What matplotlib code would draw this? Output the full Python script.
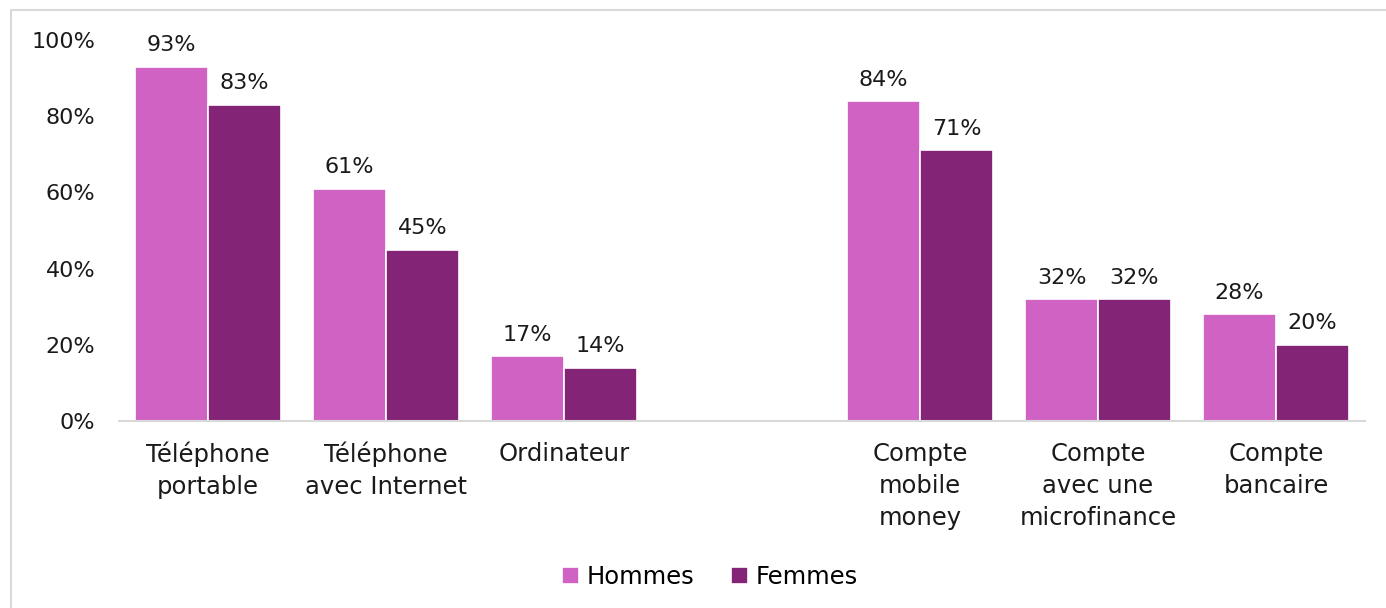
import numpy as np
import matplotlib
matplotlib.use('Agg')
import matplotlib.pyplot as plt
from matplotlib.patches import Rectangle

categories = ['Téléphone\nportable', 'Téléphone\navec Internet', 'Ordinateur', '',
              'Compte\nmobile\nmoney', 'Compte\navec une\nmicrofinance', 'Compte\nbancaire']
hommes = [0.93, 0.61, 0.17, None, 0.84, 0.32, 0.28]
femmes = [0.83, 0.45, 0.14, None, 0.71, 0.32, 0.20]
yticks = [0, 0.2, 0.4, 0.6, 0.8, 1.0]

c_h = '#D062C4'
c_f = '#842477'

plt.rcParams['font.family'] = ['DejaVu Sans']
fig = plt.figure(figsize=(13.86, 6.08), dpi=100)
ax = fig.add_axes([119/1386, 1-421/608, (1365-119)/1386, (421-40)/608])

x = np.arange(len(categories))
w = 0.41
for i in x:
    if hommes[i] is None:
        continue
    ax.bar(i - w/2, hommes[i], w, color=c_h, edgecolor='white', linewidth=1.2,
           label='Hommes' if i == 0 else None)
    ax.bar(i + w/2, femmes[i], w, color=c_f, edgecolor='white', linewidth=1.2,
           label='Femmes' if i == 0 else None)
    ax.text(i - w/2, hommes[i] + 0.03, '%d%%' % round(hommes[i]*100), ha='center', va='bottom',
            fontsize=16, color='#1a1a1a', clip_on=False)
    ax.text(i + w/2, femmes[i] + 0.03, '%d%%' % round(femmes[i]*100), ha='center', va='bottom',
            fontsize=16, color='#1a1a1a', clip_on=False)

ax.set_xlim(-0.5, len(categories) - 0.5)
ax.set_ylim(0, 1.0)
ax.set_yticks(yticks)
ax.set_yticklabels(['%d%%' % round(v*100) for v in yticks], fontsize=16)
ax.set_xticks(x)
ax.set_xticklabels(categories, linespacing=1.42, fontsize=17.5)
ax.tick_params(axis='both', length=0, labelcolor='#1a1a1a')
ax.tick_params(axis='x', pad=15)
ax.tick_params(axis='y', pad=17)
for s in ['top', 'right', 'left']:
    ax.spines[s].set_visible(False)
ax.spines['bottom'].set_color('#D9D9D9')
ax.spines['bottom'].set_linewidth(1.5)

leg = fig.legend(loc='center', bbox_to_anchor=(710/1386, 1-577/608), ncol=2, frameon=False,
                 fontsize=17.5, handlelength=0.7, handleheight=0.7, handletextpad=0.3,
                 columnspacing=1.5)

fig.patches.append(Rectangle((11/1386, -0.1), 1.2, 1.1 - 10/608, transform=fig.transFigure,
                             fill=False, edgecolor='#D9D9D9', linewidth=1.5))

fig.savefig('out.png', dpi=100)
